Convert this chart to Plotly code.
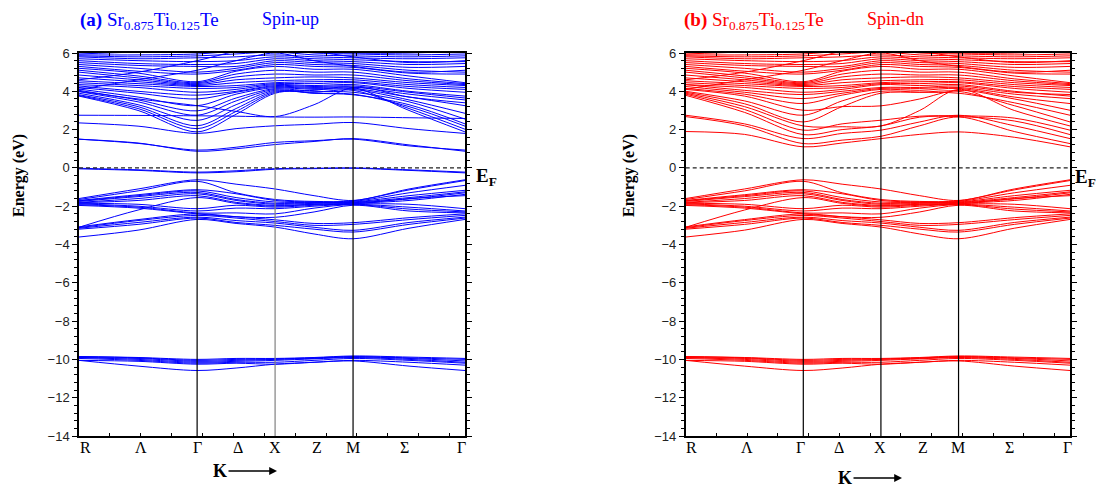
import plotly.graph_objects as go

W, H = 1097, 489

# k-path sample positions (normalised path length): R, Λ, Γ, Δ, X, Z, M, Σ, Γ
k_samples = [0.0, 0.153, 0.306, 0.407, 0.508, 0.609, 0.710, 0.855, 1.0]
sym_lines_k = [0.306, 0.508, 0.710]          # Γ, X, M
k_labels = ["R", "Λ", "Γ", "Δ", "X", "Z", "M", "Σ", "Γ"]
label_k_up = [0.016, 0.161, 0.306, 0.412, 0.508, 0.617, 0.710, 0.842, 0.990]
label_k_dn = [0.014, 0.159, 0.300, 0.400, 0.506, 0.617, 0.709, 0.842, 0.993]

# Te-s semicore bands (eV)
semicore_bands = [
    [-9.85, -9.90, -10.00, -9.95, -9.95, -9.90, -9.82, -9.88, -9.95],
    [-9.85, -9.92, -10.05, -10.00, -9.98, -9.92, -9.85, -9.92, -10.00],
    [-9.90, -9.95, -10.10, -10.05, -10.00, -9.95, -9.87, -9.95, -10.08],
    [-9.90, -10.00, -10.15, -10.10, -10.05, -9.97, -9.90, -10.00, -10.15],
    [-9.95, -10.05, -10.20, -10.15, -10.15, -10.05, -9.95, -10.05, -10.20],
    [-10.05, -10.10, -10.25, -10.20, -10.25, -10.15, -10.05, -10.15, -10.30],
    [-10.05, -10.35, -10.58, -10.45, -10.25, -10.15, -10.08, -10.35, -10.58],
]

# valence bands (eV)
valence_bands = [
    [-1.60, -1.10, -0.62, -0.85, -1.10, -1.45, -1.70, -1.10, -0.62],
    [-1.65, -1.20, -0.70, -1.30, -1.65, -1.75, -1.72, -1.15, -0.66],
    [-1.70, -1.40, -1.14, -1.35, -1.70, -1.78, -1.75, -1.30, -0.91],
    [-1.72, -1.45, -1.20, -1.55, -1.78, -1.80, -1.78, -1.45, -1.17],
    [-1.75, -1.50, -1.28, -1.65, -1.85, -1.82, -1.80, -1.55, -1.25],
    [-1.80, -1.60, -1.35, -1.70, -1.90, -1.85, -1.82, -1.62, -1.30],
    [-1.82, -1.70, -1.45, -1.80, -1.96, -1.90, -1.85, -1.70, -1.38],
    [-1.85, -1.90, -2.13, -1.95, -2.05, -1.95, -1.88, -1.90, -2.13],
    [-1.88, -2.00, -2.25, -2.10, -2.13, -2.00, -1.90, -2.05, -2.25],
    [-1.92, -2.05, -2.35, -2.35, -2.40, -2.10, -1.92, -2.15, -2.30],
    [-1.96, -2.10, -2.40, -2.55, -2.58, -2.30, -1.95, -2.25, -2.35],
    [-3.10, -2.20, -1.55, -1.85, -2.00, -1.90, -1.88, -1.60, -1.45],
    [-3.08, -2.70, -2.40, -2.55, -2.71, -2.90, -2.86, -2.60, -2.40],
    [-3.12, -2.75, -2.48, -2.62, -2.80, -3.00, -2.95, -2.70, -2.48],
    [-3.15, -2.85, -2.57, -2.75, -2.88, -3.10, -3.26, -2.85, -2.57],
    [-3.20, -2.95, -2.62, -2.85, -3.00, -3.20, -3.35, -2.95, -2.62],
    [-3.61, -3.25, -2.69, -2.90, -3.09, -3.45, -3.70, -3.15, -2.69],
]

# spin-up Ti-d states at the Fermi level
up_gap_bands = [
    [-0.02, -0.10, -0.22, -0.15, -0.04, -0.02, 0.00, -0.10, -0.22],
    [-0.05, -0.13, -0.26, -0.20, -0.07, -0.04, -0.02, -0.13, -0.26],
]

# upper conduction bands (eV)
upper_bands = [
    [4.35, 4.20, 3.95, 4.10, 4.35, 4.30, 4.35, 4.00, 3.75],
    [4.45, 4.30, 4.15, 4.20, 4.40, 4.40, 4.45, 4.15, 3.95],
    [4.55, 4.40, 4.25, 4.30, 4.45, 4.50, 4.50, 4.25, 4.10],
    [4.70, 4.50, 4.30, 4.45, 4.55, 4.60, 4.60, 4.35, 4.20],
    [4.85, 4.60, 4.35, 4.60, 4.70, 4.75, 4.70, 4.45, 4.30],
    [5.00, 4.70, 4.40, 4.75, 4.90, 4.85, 4.85, 4.55, 4.35],
    [5.10, 4.80, 4.45, 4.90, 5.10, 5.00, 5.00, 4.65, 4.40],
    [5.20, 4.95, 4.50, 5.05, 5.30, 5.15, 5.15, 4.80, 4.45],
    [5.30, 5.05, 4.90, 5.10, 5.40, 5.30, 5.25, 4.95, 4.90],
    [5.40, 5.20, 5.00, 5.20, 5.50, 5.40, 5.35, 5.10, 5.00],
    [5.50, 5.35, 5.30, 5.30, 5.60, 5.50, 5.45, 5.25, 5.30],
    [5.60, 5.45, 5.40, 5.45, 5.70, 5.60, 5.55, 5.40, 5.45],
    [5.70, 5.60, 5.55, 5.60, 5.80, 5.70, 5.65, 5.55, 5.55],
    [5.80, 5.70, 5.75, 5.80, 5.90, 5.80, 5.75, 5.70, 5.75],
    [5.85, 5.80, 5.85, 5.95, 6.05, 5.90, 5.85, 5.80, 5.85],
    [5.90, 5.90, 5.95, 6.10, 6.20, 6.00, 5.95, 5.90, 5.95],
    [5.95, 6.05, 6.10, 6.30, 6.40, 6.10, 6.00, 6.00, 6.10],
    [4.60, 5.00, 5.60, 6.10, 6.50, 6.10, 5.80, 5.50, 5.60],
    [4.10, 4.60, 5.10, 5.60, 6.00, 5.60, 5.30, 5.00, 5.10],
]

# spin-up lower conduction bands (eV)
up_conduction_bands = [
    [1.50, 1.30, 0.87, 1.00, 1.22, 1.38, 1.53, 1.20, 0.87],
    [1.50, 1.28, 0.93, 1.08, 1.33, 1.42, 1.50, 1.15, 0.93],
    [2.35, 2.18, 1.80, 2.05, 2.20, 2.28, 2.37, 2.05, 1.80],
    [2.75, 2.74, 2.72, 2.70, 2.66, 2.65, 2.66, 2.62, 2.58],
    [3.75, 3.00, 1.88, 2.80, 3.90, 4.05, 4.20, 3.00, 1.88],
    [3.78, 3.10, 2.05, 2.95, 3.95, 3.95, 4.05, 3.10, 2.02],
    [3.82, 3.20, 2.20, 3.10, 4.00, 3.90, 3.85, 3.20, 2.18],
    [3.90, 3.30, 2.48, 3.30, 4.05, 3.90, 3.82, 3.30, 2.30],
    [3.98, 3.45, 2.75, 3.50, 4.10, 4.00, 3.95, 3.45, 2.55],
    [4.05, 3.55, 2.98, 3.65, 4.15, 4.10, 4.10, 3.55, 2.85],
    [4.12, 3.70, 3.25, 3.85, 4.20, 4.15, 4.15, 3.70, 3.25],
    [4.20, 3.90, 3.60, 3.95, 4.25, 4.20, 4.22, 3.85, 3.55],
    [4.28, 4.00, 3.80, 4.00, 4.30, 4.25, 4.28, 3.95, 3.65],
    [4.00, 3.60, 3.25, 2.95, 2.68, 3.30, 4.20, 3.70, 3.40],
]

# spin-down lower conduction bands (eV)
dn_conduction_bands = [
    [1.90, 1.75, 1.10, 1.30, 1.53, 1.75, 1.88, 1.60, 1.10],
    [2.68, 2.20, 1.27, 1.45, 1.65, 2.20, 2.66, 1.90, 1.27],
    [2.75, 2.30, 1.53, 1.80, 1.97, 2.40, 2.75, 2.20, 1.53],
    [3.79, 2.90, 1.74, 2.00, 2.19, 2.65, 2.68, 2.45, 1.74],
    [3.85, 3.05, 1.97, 2.30, 2.49, 2.70, 2.72, 2.60, 1.97],
    [3.90, 3.20, 2.19, 2.15, 2.19, 3.00, 4.10, 3.00, 2.19],
    [3.95, 3.35, 2.40, 3.20, 3.90, 3.95, 4.00, 3.25, 2.40],
    [4.00, 3.50, 2.75, 3.50, 4.00, 3.95, 3.90, 3.40, 2.75],
    [4.10, 3.75, 3.01, 3.20, 3.24, 3.60, 4.05, 3.60, 3.01],
    [4.15, 3.85, 3.36, 3.80, 4.10, 4.05, 4.15, 3.70, 3.36],
    [4.25, 3.95, 3.62, 3.90, 4.15, 4.15, 4.20, 3.85, 3.62],
    [4.35, 4.05, 3.83, 4.00, 4.20, 4.20, 4.28, 3.95, 3.83],
]

BLUE = "#0000ff"
RED = "#ff0000"
SERIF = "Liberation Serif"
SANS = "Liberation Sans"

fig = go.Figure()


def add_bands(bands, color, xa, ya):
    for b in bands:
        fig.add_trace(go.Scatter(
            x=k_samples, y=b, mode="lines",
            line=dict(color=color, width=1, shape="spline", smoothing=0.9),
            xaxis=xa, yaxis=ya, hoverinfo="skip", showlegend=False))


panels = [
    ("x", "y", BLUE, semicore_bands + valence_bands + up_gap_bands + up_conduction_bands + upper_bands),
    ("x2", "y2", RED, semicore_bands + valence_bands + dn_conduction_bands + upper_bands),
]
for xa, ya, col, bands in panels:
    add_bands(bands, col, xa, ya)


def px(x):
    return x / W


def py(y):
    return 1 - y / H


ydom = [py(436), py(53)]
xdom1 = [px(79), px(465)]
xdom2 = [px(685.7), px(1070)]

yaxis_common = dict(
    range=[-14, 6], dtick=2, tick0=0, domain=ydom, automargin=False,
    showline=True, linecolor="black", linewidth=1.5, mirror="ticks",
    ticks="outside", ticklen=5, tickwidth=1, tickcolor="black",
    minor=dict(dtick=0.4, ticklen=3, tickcolor="black", ticks="outside"),
    showgrid=False, zeroline=False,
    tickfont=dict(family=SANS, size=13, color="#222"),
)
xaxis_common = dict(
    range=[0, 1], showline=True, linecolor="black", linewidth=1.5, automargin=False,
    mirror="ticks", ticks="inside", ticklen=3, dtick=0.08, tick0=0,
    tickcolor="black", showticklabels=False, showgrid=False, zeroline=False,
)

fig.update_layout(
    width=W, height=H, margin=dict(l=0, r=0, t=0, b=0, pad=0, autoexpand=False),
    paper_bgcolor="white", plot_bgcolor="white",
    xaxis=dict(domain=xdom1, anchor="y", **xaxis_common),
    yaxis=dict(anchor="x", **yaxis_common),
    xaxis2=dict(domain=xdom2, anchor="y2", **xaxis_common),
    yaxis2=dict(anchor="x2", **yaxis_common),
)

shapes = []
for xr, yr in [("x", "y"), ("x2", "y2")]:
    for i, kx in enumerate(sym_lines_k):
        col = "#808080" if (xr == "x" and i == 1) else "black"
        shapes.append(dict(type="line", xref=xr, yref=yr + " domain", x0=kx, x1=kx,
                           y0=0, y1=1, line=dict(color=col, width=1.2)))
    shapes.append(dict(type="line", xref=xr + " domain", yref=yr, x0=0, x1=1,
                       y0=0, y1=0, line=dict(color="#222", width=1.2, dash="4px,3px")))
fig.update_layout(shapes=shapes)

ann = []
# k labels
for xr, lks in [("x", label_k_up), ("x2", label_k_dn)]:
    for lab, kx in zip(k_labels, lks):
        ann.append(dict(x=kx, y=py(447), xref=xr, yref="paper", text=lab,
                        showarrow=False, xanchor="center", yanchor="middle",
                        font=dict(family=SERIF, size=16, color="black")))

# titles
ann.append(dict(x=px(78), y=py(21), xref="paper", yref="paper",
                text="<b>(a)</b> Sr<sub>0.875</sub>Ti<sub>0.125</sub>Te",
                showarrow=False, xanchor="left", yanchor="middle",
                font=dict(family=SERIF, size=19, color=BLUE)))
ann.append(dict(x=px(260), y=py(19), xref="paper", yref="paper", text="Spin-up",
                showarrow=False, xanchor="left", yanchor="middle",
                font=dict(family=SERIF, size=18, color=BLUE)))
ann.append(dict(x=px(682), y=py(21), xref="paper", yref="paper",
                text="<b>(b)</b> Sr<sub>0.875</sub>Ti<sub>0.125</sub>Te",
                showarrow=False, xanchor="left", yanchor="middle",
                font=dict(family=SERIF, size=19, color=RED)))
ann.append(dict(x=px(865), y=py(19), xref="paper", yref="paper", text="Spin-dn",
                showarrow=False, xanchor="left", yanchor="middle",
                font=dict(family=SERIF, size=18, color=RED)))

# y titles
for xp_ in (19, 629):
    ann.append(dict(x=px(xp_), y=py(176), xref="paper", yref="paper",
                    text="<b>Energy (eV)</b>", textangle=-90, showarrow=False,
                    xanchor="center", yanchor="middle",
                    font=dict(family=SERIF, size=16, color="black")))

# E_F labels
for xp_, yp_ in ((474, 177), (1073, 178)):
    ann.append(dict(x=px(xp_), y=py(yp_), xref="paper", yref="paper",
                    text="<b>E<sub>F</sub></b>", showarrow=False,
                    xanchor="left", yanchor="middle",
                    font=dict(family=SERIF, size=19, color="black")))

# K arrows
for tipx, cy in ((277, 471), (902, 478)):
    ann.append(dict(x=px(tipx), y=py(cy), xref="paper", yref="paper",
                    text="<b>K</b>", showarrow=True, ax=-57, ay=0,
                    axref="pixel", ayref="pixel",
                    arrowhead=2, arrowsize=1.2, arrowwidth=1.3, arrowcolor="black",
                    font=dict(family=SERIF, size=18, color="black")))

fig.update_layout(annotations=ann)

fig.write_html("out.html")
